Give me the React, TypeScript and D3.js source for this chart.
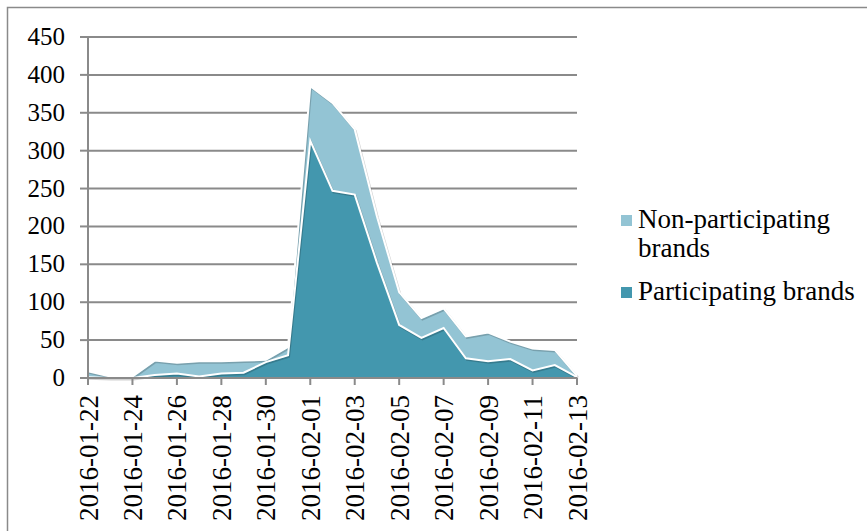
import React from 'react';
import * as d3 from 'd3';

const dates = [
  '2016-01-22', '2016-01-23', '2016-01-24', '2016-01-25', '2016-01-26', '2016-01-27',
  '2016-01-28', '2016-01-29', '2016-01-30', '2016-01-31', '2016-02-01', '2016-02-02',
  '2016-02-03', '2016-02-04', '2016-02-05', '2016-02-06', '2016-02-07', '2016-02-08',
  '2016-02-09', '2016-02-10', '2016-02-11', '2016-02-12', '2016-02-13',
];
const participating = [1, 0, 0, 4, 6, 2, 6, 7, 21, 30, 313, 247, 242, 152, 70, 53, 66, 26, 22, 25, 10, 17, 1];
const nonParticipating = [8, 2, 2, 19, 14, 20, 16, 16, 3, 11, 72, 116, 86, 61, 43, 26, 26, 29, 38, 23, 29, 20, 2];
const yTicks = [0, 50, 100, 150, 200, 250, 300, 350, 400, 450];
const seriesNames = ['Participating brands', 'Non-participating brands'];
const colors = ['#4397ae', '#93c4d4'];

const font = 'Times New Roman';
const grey = '#8a8a8a';

const left = 88;
const right = 577;
const top = 37;
const bottom = 378;

const parse = d3.timeParse('%Y-%m-%d');
const fmt = d3.timeFormat('%Y-%m-%d');
const rows = dates.map((d, i) => ({
  date: parse(d) as Date,
  part: participating[i],
  non: nonParticipating[i],
}));

const x = d3.scaleTime()
  .domain(d3.extent(rows, (d) => d.date) as [Date, Date])
  .range([left, right]);
const y = d3.scaleLinear().domain([0, 450]).range([bottom, top]);

const layers = d3.stack<any>().keys(['part', 'non'])(rows);
const area = d3.area<any>()
  .x((d) => x(d.data.date))
  .y0((d) => y(d[0]))
  .y1((d) => y(d[1]));
const topLine = d3.line<any>()
  .x((d) => x(d.data.date))
  .y((d) => y(d[1]));

const xTicks = rows.filter((d, i) => i % 2 === 0).map((d) => d.date);

// legend entries, upper series first
const legend = [
  { color: colors[1], y: 215, lines: ['Non-participating', 'brands'] },
  { color: colors[0], y: 287, lines: [seriesNames[0]] },
];

export default function App() {
  return (
    <svg width={867} height={531} style={{ position: 'absolute', left: 0, top: 0 }}>
      {/* frame */}
      <path d="M7.5,531 V7.5 H867" fill="none" stroke={grey} strokeWidth={1.5} />

      {/* gridlines */}
      {yTicks.filter((t) => t > 0).map((t) => (
        <line key={t} x1={left} x2={right} y1={y(t)} y2={y(t)} stroke={grey} strokeWidth={2} />
      ))}

      {/* stacked areas with white top edges and a faint shadow */}
      {layers.map((layer, i) => (
        <path key={'a' + i} d={area(layer) as string} fill={colors[i]} />
      ))}
      {layers.map((layer, i) => (
        <path key={'s' + i} d={topLine(layer) as string} fill="none" stroke="#000"
          strokeOpacity={0.18} strokeWidth={2} transform="translate(1,1.5)" />
      ))}
      {layers.map((layer, i) => (
        <path key={'l' + i} d={topLine(layer) as string} fill="none" stroke="#fff" strokeWidth={2} />
      ))}

      {/* y axis */}
      <line x1={left} x2={left} y1={top} y2={bottom} stroke={grey} strokeWidth={2} />
      {yTicks.map((t) => (
        <g key={t}>
          <line x1={left - 8} x2={left} y1={y(t)} y2={y(t)} stroke={grey} strokeWidth={2} />
          <text x={left - 23} y={y(t) + 8} textAnchor="end" fill="#000"
            style={{ fontFamily: font, fontSize: 25 }}>
            {t}
          </text>
        </g>
      ))}

      {/* x axis */}
      <line x1={left} x2={right} y1={bottom} y2={bottom} stroke={grey} strokeWidth={2} />
      {xTicks.map((d) => (
        <g key={fmt(d)}>
          <line x1={x(d)} x2={x(d)} y1={bottom} y2={bottom + 7} stroke={grey} strokeWidth={2} />
          <text transform={`translate(${x(d) + 9.5},${bottom + 17}) rotate(-90)`}
            textAnchor="end" fill="#000" style={{ fontFamily: font, fontSize: 27 }}>
            {fmt(d)}
          </text>
        </g>
      ))}

      {/* legend */}
      {legend.map((item) => (
        <g key={item.y}>
          <rect x={621} y={item.y} width={11} height={11} fill={item.color} />
          {item.lines.map((line, j) => (
            <text key={line} x={638} y={item.y + 12.5 + j * 29.5} fill="#000"
              style={{ fontFamily: font, fontSize: 27 }}>
              {line}
            </text>
          ))}
        </g>
      ))}
    </svg>
  );
}
